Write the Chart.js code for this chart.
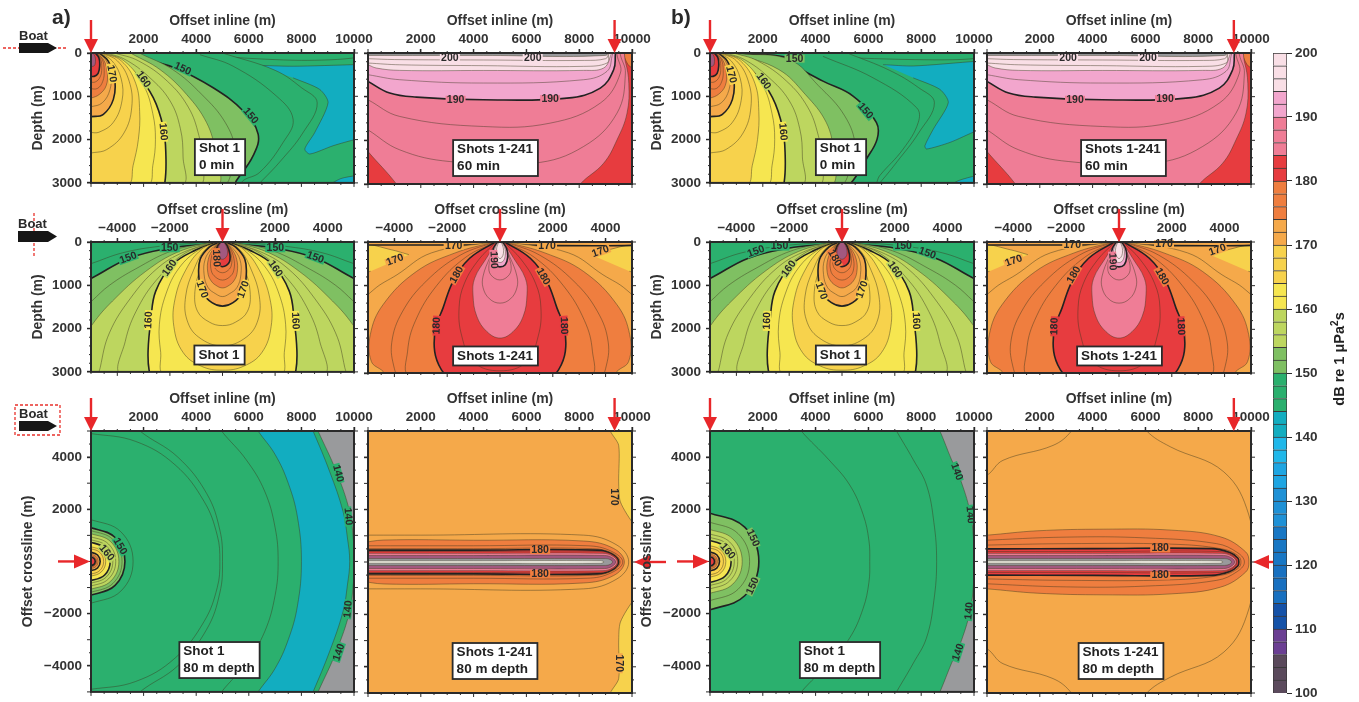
<!DOCTYPE html>
<html>
<head>
<meta charset="utf-8">
<title>Sound exposure level panels</title>
<script src="https://cdn.jsdelivr.net/npm/chart.js@4/dist/chart.umd.min.js"></script>
<style>
  html, body { margin: 0; padding: 0; background: #fff; width: 1359px; height: 702px; overflow: hidden; }
  #page { position: relative; width: 1359px; height: 702px; filter: blur(0.6px); }
  canvas { position: absolute; }
  .tag { position: absolute; font: bold 21px "Liberation Sans", sans-serif; color: #2a2a2a; }
  #barTitle { position: absolute; left: 1289px; top: 351px; width: 100px; text-align: center; white-space: nowrap;
    font: bold 14.5px "Liberation Sans", sans-serif; color: #222; transform: rotate(-90deg); }
  #barTitle sup { font-size: 10px; line-height: 0; }
  svg { position: absolute; left: 0; top: 0; }
</style>
</head>
<body>
<div id="page">
  <div class="tag" style="left:52px;top:5px">a)</div>
  <div class="tag" style="left:671px;top:5px">b)</div>
  <div id="barTitle">dB re 1 &mu;Pa<sup>2</sup>s</div>
  <svg width="80" height="440" font-family="Liberation Sans" font-weight="bold" font-size="13" fill="#2a2a2a">
    <line x1="3" y1="48" x2="68" y2="48" stroke="#e8322c" stroke-width="1.3" stroke-dasharray="3 2"/>
    <text x="19" y="40">Boat</text>
    <polygon points="19,43 48,43 57,48 48,53 19,53" fill="#161616"/>
    <line x1="34" y1="213" x2="34" y2="258" stroke="#e8322c" stroke-width="1.3" stroke-dasharray="3 2"/>
    <text x="18" y="228">Boat</text>
    <polygon points="18,231 48,231 57,236.5 48,242 18,242" fill="#161616"/>
    <rect x="15" y="405" width="45" height="30" fill="none" stroke="#e8322c" stroke-width="1.3" stroke-dasharray="3 2"/>
    <text x="19" y="418">Boat</text>
    <polygon points="19,421 48,421 57,426 48,431 19,431" fill="#161616"/>
  </svg>
</div>
<script>
// colour bar cells, 2 dB each, from 100 dB up
const cellLevels = [100,102,104,106,108,110,112,114,116,118,120,122,124,126,128,130,132,134,136,138,140,142,144,146,148,150,152,154,156,158,160,162,164,166,168,170,172,174,176,178,180,182,184,186,188,190,192,194,196,198];
// the last three (levels 200, 202, 204) are the grey, white and mauve seen close to the source
const cellColors = ['#5b4a5c','#5b4a5c','#5b4a5c','#6b3f93','#6b3f93','#1552a8','#1552a8','#1870c0','#1870c0','#1870c0','#1877c4','#1877c4','#1877c4','#1f91d6','#1f91d6','#1f91d6','#1ea5e2','#1ea5e2','#20b8ea','#20b8ea','#12adc0','#12adc0','#2bb06e','#2bb06e','#2bb06e','#7fc062','#7fc062','#bdd65f','#bdd65f','#bdd65f','#f6e650','#f6e650','#f7d24c','#f7d24c','#f7d24c','#f5a94a','#f5a94a','#ef7e3f','#ef7e3f','#ef7e3f','#e73c3f','#e73c3f','#ef7d96','#ef7d96','#ef7d96','#f2a6cd','#f2a6cd','#f9dfe6','#f9dfe6','#f9dfe6','#999a9c','#f2efe6','#a2587f'];
const barTicks = [100,110,120,130,140,150,160,170,180,190,200];

// axis ticks
const inlineTicks = [2000,4000,6000,8000,10000];
const crossTicks = [-4000,-2000,2000,4000];
const depthTicks = [0,1000,2000,3000];
const crossSideTicks = [4000,2000,-2000,-4000];
const inlineMinor = [0,500,1000,1500,2000,2500,3000,3500,4000,4500,5000,5500,6000,6500,7000,7500,8000,8500,9000,9500,10000];
const crossMinor = [-5000,-4500,-4000,-3500,-3000,-2500,-2000,-1500,-1000,-500,0,500,1000,1500,2000,2500,3000,3500,4000,4500,5000];
const depthMinor = [0,200,400,600,800,1000,1200,1400,1600,1800,2000,2200,2400,2600,2800,3000];

// contours: [level, x,y, x,y, ...] in metres
const shotInlineCore = [
  [156, 900,0, 1800,180, 2900,650, 3700,1250, 4100,1900, 4250,2500, 4100,3060],
  [158, 600,0, 1300,150, 2200,550, 3000,1100, 3400,1750, 3500,2400, 3450,3060],
  [160, 342,0, 848,153, 1734,497, 2367,1033, 2747,1721, 2848,2371, 2810,2983, 2684,3060],
  [162, 450,0, 1250,180, 2000,750, 2350,1400, 2450,2000, 2350,2600, 2150,3060],
  [164, 430,0, 1150,180, 1700,700, 1850,1350, 1800,2000, 1600,2600, 1400,3060],
  [166, 380,0, 1000,180, 1450,650, 1550,1250, 1250,1850, 600,2230, -200,2400],
  [168, 330,0, 800,180, 1150,600, 1180,1100, 850,1600, 300,1830, -200,1880],
  [170, 300,0, 650,180, 900,600, 850,1071, 470,1415, 0,1470, -200,1470],
  [172, 280,0, 580,180, 750,500, 720,850, 430,1150, 0,1240, -200,1240],
  [174, 250,0, 500,180, 620,450, 580,750, 330,950, 0,1040, -200,1040],
  [176, 220,0, 430,150, 500,400, 450,650, 240,820, -200,860],
  [178, 190,0, 360,130, 410,350, 350,550, 160,670, -200,700],
  [180, 160,0, 300,110, 330,300, 270,470, 120,540, -200,560],
  [204, 70,0, 150,80, 170,200, 110,300, -200,340]
];
const a1Islands = [
  [146, -100,-100, 10100,-100, 10100,100, 8000,170, 5000,80, 3000,-100],
  [142, 6292,283, 7685,306, 10100,268, 10300,268, 10300,1990, 10100,1990, 9204,2142, 8318,2333, 8128,2218, 8508,1836, 9014,1147, 8697,841, 7685,574],
  [142, 8900,3100, 9500,2900, 10100,2830, 10300,2830, 10300,3100]
];
const a1Outer = [
  [146, 5000,0, 7000,400, 8000,800, 8600,1150, 8050,1850, 7200,2500, 6500,2950, 6300,3060],
  [148, 4140,38, 5406,306, 7052,995, 7685,1530, 7305,2065, 6418,2754, 5785,2945, 5600,3100],
  [150, 342,0, 1988,153, 3190,344, 4646,803, 5786,1339, 6355,1874, 6165,2371, 5532,2945, 5405,3060],
  [152, 1900,20, 3100,380, 4200,950, 5100,1600, 5500,2250, 5400,2600, 5000,3060],
  [154, 1544,15, 2620,382, 3633,956, 4393,1606, 4773,2295, 4900,2601, 4773,3060]
];
const b1Islands = [
  [146, -100,-100, 10100,-100, 10100,120, 7500,150, 4000,60, 2800,-100],
  [142, 6558,268, 7700,300, 10100,191, 10300,191, 10300,1798, 10100,1798, 9090,2065, 8204,2218, 8140,2142, 8457,1760, 9026,1147, 8710,841, 7697,574],
  [142, 9000,3100, 9400,2950, 10100,2830, 10300,2830, 10300,3100]
];
const b1Outer = [
  [146, 5200,0, 6800,400, 7900,800, 8500,1150, 7900,1850, 7100,2500, 6500,2950, 6300,3060],
  [148, 4279,77, 6178,574, 7824,1262, 7887,1606, 7317,2218, 6431,2830, 6178,3060],
  [150, 1200,10, 2900,100, 3266,306, 4279,650, 5418,995, 6305,1606, 6330,1989, 5925,2448, 5418,2945, 5165,3060],
  [152, 1100,15, 3000,150, 4100,750, 5100,1450, 5500,2150, 5300,2700, 4900,3060],
  [154, 950,12, 2600,380, 3600,950, 4400,1600, 4720,2300, 4800,2650, 4550,3060]
];
const shots60Islands = [
  [178, 9700,-100, 9720,100, 9900,300, 10200,350, 10200,-100]
];
const shots60Contours = [
  [184, -200,2100, 0,2257, 1076,3000, 1200,3200, 7900,3200, 8039,3000, 8925,2525, 9432,1989, 9812,1377, 9880,700, 9750,200, 9550,-100],
  [186, 0,1760, 1203,2218, 3100,2486, 6267,2525, 8165,2142, 9432,1377, 9750,460, 9560,40, 9560,-100],
  [188, 0,1071, 1203,1453, 4368,1683, 6900,1606, 8800,1147, 9560,460, 9432,38, 9432,-100],
  [190, 0,650, 823,918, 1835,1010, 4368,1071, 7533,1033, 8800,803, 9305,383, 9369,38, 9369,-100],
  [192, 0,497, 1203,612, 4368,688, 8165,612, 9052,420, 9242,77, 9242,-100],
  [194, 0,268, 316,344, 1203,398, 4368,400, 8165,398, 8925,344, 9179,77, 9179,-100],
  [196, 0,230, 1203,270, 4368,290, 8165,306, 9052,230, 9115,38, 9115,-100],
  [198, 0,130, 1000,150, 4368,160, 8200,170, 9000,130, 9100,30, 9100,-100],
  [200, 0,55, 4368,55, 9000,55, 9080,-100]
];
// right halves, mirrored about x = 0
const shotCross = [
  [148, 500,0, 2400,100, 3800,250, 5000,500, 5300,550, 5300,3300],
  [150, 300,0, 265,30, 2033,144, 3549,373, 4964,830, 5300,900, 5300,3300],
  [152, 400,0, 1900,200, 3300,620, 4300,1000, 4964,1360, 5300,1550, 5300,3300],
  [154, 300,0, 1654,220, 2917,677, 4180,1362, 4938,1895, 5300,2300, 5300,3300],
  [156, 260,0, 1500,240, 2500,620, 3500,1300, 4300,2100, 4650,2900, 4650,3060],
  [158, 230,0, 1400,250, 2400,800, 3200,1500, 3700,2300, 3800,3060],
  [160, 200,0, 1000,180, 1907,525, 2539,1134, 2728,1819, 2829,2504, 2791,2960, 2665,3060],
  [162, 180,0, 900,180, 1650,600, 2150,1200, 2400,1900, 2350,2550, 2200,3060],
  [164, 160,0, 800,170, 1400,650, 1800,1300, 1850,1950, 1500,2550, 800,2870, 0,2960],
  [166, 140,0, 650,170, 1100,650, 1400,1250, 1350,1800, 900,2200, 0,2400],
  [168, 130,0, 560,170, 850,620, 1050,1150, 950,1600, 500,1850, 0,1930],
  [170, 120,0, 500,120, 850,400, 900,800, 780,1150, 400,1400, 0,1480],
  [172, 100,0, 400,150, 660,400, 700,750, 550,1050, 250,1200, 0,1260],
  [174, 90,0, 340,150, 540,400, 560,700, 430,900, 200,1020, 0,1060],
  [176, 80,0, 280,130, 430,380, 440,620, 320,780, 0,880],
  [178, 70,0, 230,120, 340,320, 340,530, 220,650, 0,710],
  [180, 60,0, 190,100, 280,280, 270,450, 150,540, 0,570],
  [204, 40,0, 130,80, 190,200, 170,320, 80,380, 0,400]
];
const allCrossIslands = [
  [168, 3450,290, 4100,180, 5300,60, 5300,720, 4900,670],
  [168, -3450,290, -4100,180, -5300,60, -5300,720, -4900,670],
  [170, -5300,-100, 5300,-100, 5300,70, 0,70, -5300,70]
];
const allCross = [
  [172, 300,0, 2600,250, 3900,750, 4800,1100, 5300,1500, 5300,3300],
  [174, 240,0, 1700,250, 3170,677, 4433,1438, 4913,2123, 4875,2732, 4433,2960, 4300,3060],
  [176, 200,0, 1500,300, 2800,900, 3700,1600, 4100,2300, 4000,2900, 3800,3060],
  [178, 170,0, 1300,350, 2400,1000, 3200,1800, 3500,2500, 3400,3060],
  [180, 180,0, 1149,373, 1781,905, 2160,1514, 2437,1971, 2475,2504, 2223,2922, 1907,3075],
  [182, 150,0, 800,400, 1350,950, 1550,1500, 1450,2150, 1000,2750, 0,2950],
  [184, 120,0, 518,373, 960,830, 1023,1210, 880,1700, 500,2050, 0,2200],
  [186, 100,0, 380,350, 640,780, 640,1050, 400,1300, 0,1400],
  [188, 80,0, 300,300, 420,550, 350,750, 0,870],
  [190, 100,0, 250,150, 290,350, 200,520, 0,570],
  [194, 60,0, 180,130, 200,300, 130,430, 0,470],
  [196, 40,0, 120,120, 130,260, 70,350, 0,380]
];
// upper halves, mirrored about y = 0
const a5Contours = [
  [146, -300,5300, 8500,5300, 8634,5000, 9330,3438, 9836,1914, 9970,900, 10027,0],
  [142, -300,5300, 8300,5300, 8444,5000, 9077,3438, 9583,1914, 9750,900, 9836,0],
  [146, -300,5300, 6200,5300, 6355,5000, 7000,4100, 7500,3000, 7850,1700, 8001,0],
  [146, -300,5300, 4800,5300, 4963,5000, 5900,3900, 6600,2700, 7000,1300, 7115,0],
  [146, -300,5300, 1700,5300, 1861,5000, 3300,4000, 4400,2600, 4900,1200, 5000,0],
  [146, -300,4900, 0,4900, 1700,4600, 3200,3700, 4300,2300, 4800,1000, 4900,0],
  [148, -300,1600, 0,1600, 1136,1136, 1600,0],
  [150, -300,1290, 0,1290, 916,916, 1290,0],
  [152, -300,1180, 0,1180, 838,838, 1180,0],
  [154, -300,1060, 0,1060, 753,753, 1060,0],
  [156, -300,940, 0,940, 667,667, 940,0],
  [158, -300,830, 0,830, 589,589, 830,0],
  [160, -300,730, 0,730, 518,518, 730,0],
  [164, -300,560, 0,560, 398,398, 560,0],
  [166, -300,480, 0,480, 341,341, 480,0],
  [170, -300,350, 0,350, 249,249, 350,0],
  [174, -300,270, 0,270, 192,192, 270,0],
  [178, -300,210, 0,210, 149,149, 210,0],
  [180, -300,160, 0,160, 114,114, 160,0]
];
const b5Contours = [
  [146, -300,5300, 8550,5300, 8710,5000, 9150,3900, 9470,3184, 9850,1914, 9980,900, 10014,0],
  [146, -300,5300, 6900,5300, 7064,5000, 7700,3900, 8200,2930, 8480,1500, 8584,0],
  [146, -300,5300, 3300,5300, 3456,5000, 4500,3900, 5292,2930, 5800,1800, 6020,800, 6051,0],
  [150, -300,1850, 0,1850, 1314,1314, 1850,0],
  [152, -300,1500, 0,1500, 1065,1065, 1500,0],
  [154, -300,1220, 0,1220, 866,866, 1220,0],
  [156, -300,1050, 0,1050, 746,746, 1050,0],
  [158, -300,920, 0,920, 653,653, 920,0],
  [160, -300,800, 0,800, 568,568, 800,0],
  [164, -300,600, 0,600, 426,426, 600,0],
  [166, -300,510, 0,510, 362,362, 510,0],
  [170, -300,360, 0,360, 256,256, 360,0],
  [174, -300,280, 0,280, 199,199, 280,0],
  [178, -300,220, 0,220, 156,156, 220,0],
  [180, -300,170, 0,170, 121,121, 170,0]
];
const capsuleCore = [
  [182, -300,400, 4000,400, 8800,400, 9280,260, 9470,0],
  [184, -300,330, 4000,330, 8900,330, 9270,220, 9440,0],
  [204, -300,250, 4000,250, 8950,250, 9240,170, 9380,0],
  [200, -300,130, 4000,130, 9000,130, 9180,90, 9260,0],
  [202, -300,45, 4000,45, 8800,45, 8950,0]
];
const a6Islands = [
  [168, 9179,5300, 9179,5000, 9495,4454, 9495,3057, 9560,2295, 10100,1400, 10300,1400, 10300,5300],
  [168, 9179,-5300, 9179,-5000, 9495,-4454, 9495,-3057, 9560,-2295, 10100,-1400, 10300,-1400, 10300,-5300]
];
const a6Contours = [
  [172, -300,1025, 2000,1025, 8165,1025, 9432,644, 9875,0],
  [174, -300,720, 600,838, 4000,830, 8165,800, 9305,517, 9710,0],
  [176, -300,620, 4000,620, 8300,620, 9200,420, 9650,0],
  [178, -300,510, 4000,510, 8500,510, 9250,340, 9550,0],
  [180, -300,454, 4000,454, 8700,454, 9250,300, 9495,0]
];
const b6Contours = [
  [172, -300,3310, 0,3310, 608,3882, 2500,4450, 3200,5000, 3300,5400, 5950,5400, 6050,5000, 6940,4400, 8970,3440, 9920,1790, 10050,0],
  [174, -300,1025, 0,1025, 1900,1190, 4400,1253, 7000,1215, 8844,960, 9794,390, 9920,0],
  [176, -300,820, 3000,950, 6000,920, 8700,700, 9500,350, 9750,0],
  [178, -300,640, 3000,700, 7000,680, 8900,500, 9500,250, 9620,0],
  [180, -300,500, 4000,510, 8500,510, 9200,360, 9500,150, 9540,0]
];

// contour labels: [x, y, angle, text, level behind the text]
const a1Labels = [[785,474,80,'170',168],[1988,612,55,'160',158],[2747,1820,85,'160',160],[3481,367,25,'150',148],[6064,1453,50,'150',148]];
const b1Labels = [[798,497,75,'170',168],[2026,650,55,'160',158],[2760,1820,85,'160',160],[3203,130,0,'150',150],[5887,1339,50,'150',148]];
const a2Labels = [[3100,115,0,'200',198],[6240,115,0,'200',198],[3317,1071,0,'190',188],[6900,1055,0,'190',188]];
const b2Labels = [[3070,115,0,'200',198],[6100,115,0,'200',198],[3333,1071,0,'190',188],[6742,1055,0,'190',188]];
const a3Labels = [[-2008,145,0,'150',148],[2008,145,0,'150',148],[-3587,373,-20,'150',148],[3524,358,20,'150',148],[-2008,600,-55,'160',158],[2008,616,55,'160',158],[-2804,1804,-88,'160',160],[2766,1820,88,'160',160],[-783,1096,70,'170',168],[796,1096,-70,'170',168],[-240,373,88,'180',178]];
const b3Labels = [[-2367,106,0,'150',148],[2316,106,0,'150',148],[-3254,220,-20,'150',148],[3228,258,20,'150',148],[-2013,616,-55,'160',158],[2000,640,55,'160',158],[-2836,1820,-88,'160',160],[2798,1820,88,'160',160],[-785,1134,70,'170',168],[772,1096,-70,'170',168],[-278,373,60,'180',178]];
const a4Labels = [[-1756,84,0,'170',170],[1782,84,0,'170',170],[-3975,411,-20,'170',170],[3811,221,-20,'170',170],[-1633,753,-60,'180',178],[1633,791,60,'180',178],[-2393,1918,-88,'180',180],[2418,1918,88,'180',180],[-240,411,88,'190',188]];
const b4Labels = [[-1770,68,0,'170',170],[1706,53,0,'170',170],[-3985,433,-20,'170',170],[3730,183,-20,'170',170],[-1706,753,-60,'180',178],[1620,791,60,'180',178],[-2440,1933,-88,'180',180],[2340,1933,88,'180',180],[-250,449,88,'190',188]];
const a5Labels = [[1100,580,60,'150',148],[595,327,50,'160',158],[9394,3374,75,'140',146],[9773,1722,85,'140',146],[9773,-1832,-85,'140',146],[9431,-3484,-72,'140',146]];
const b5Labels = [[1620,897,65,'150',150],[670,390,50,'160',158],[1620,-940,-65,'150',150],[9343,3438,70,'140',146],[9850,1787,85,'140',146],[9811,-1896,-85,'140',146],[9406,-3484,-72,'140',146]];
const a6Labels = [[6520,454,0,'180',176],[6520,-454,0,'180',176],[9305,2485,90,'170',170],[9495,-3865,90,'170',170]];
const b6Labels = [[6560,517,0,'180',176],[6560,-517,0,'180',176]];

const pageEl = document.getElementById('page');
const tickFont = { family: 'Liberation Sans', weight: 'bold', size: 13.5 };
const titleFont = { family: 'Liberation Sans', weight: 'bold', size: 14 };
const inkColor = '#333';
const arrowRed = '#e8272a';

function levelColor(level) {
  return cellColors[(level - 100) / 2];
}

// turns [level, x,y, ...] into {level, pts}
function unpack(shape) {
  const pts = [];
  for (let i = 1; i < shape.length; i += 2) pts.push({ x: shape[i], y: shape[i + 1] });
  return { level: shape[0], pts: pts };
}
function mirrorX(s) {
  const back = s.pts.filter(p => p.x !== 0).reverse().map(p => ({ x: -p.x, y: p.y }));
  return { level: s.level, pts: s.pts.concat(back) };
}
function mirrorY(s) {
  const back = s.pts.filter(p => p.y !== 0).reverse().map(p => ({ x: p.x, y: -p.y }));
  return { level: s.level, pts: s.pts.concat(back) };
}
function closeWith(extra) {
  return s => ({ level: s.level, pts: s.pts.concat(extra.map(e => ({ x: e[0], y: e[1] }))) });
}

function contourDataset(s, tension) {
  const major = s.level % 10 === 0 && s.level < 200 && s.level !== 140;
  return {
    label: String(s.level),
    data: s.pts,
    showLine: true,
    pointRadius: 0,
    fill: 'shape',
    backgroundColor: levelColor(s.level),
    borderColor: major ? '#222' : 'rgba(60,55,30,0.5)',
    borderWidth: major ? 1.6 : 0.9,
    tension: tension
  };
}

// everything drawn on top of the contours in one panel
function panelDecor(p) {
  return {
    id: 'panelDecor',
    afterDatasetsDraw(chart) {
      const ctx = chart.ctx, a = chart.chartArea, sx = chart.scales.x, sy = chart.scales.y;
      ctx.save();
      // contour labels
      ctx.font = 'bold 10.5px "Liberation Sans"';
      ctx.textAlign = 'center';
      ctx.textBaseline = 'middle';
      (p.labels || []).forEach(l => {
        ctx.save();
        ctx.translate(sx.getPixelForValue(l[0]), sy.getPixelForValue(l[1]));
        ctx.rotate(l[2] * Math.PI / 180);
        ctx.fillStyle = levelColor(l[4]);
        ctx.fillRect(-10, -4, 20, 8);
        ctx.fillStyle = '#2a2a2a';
        ctx.fillText(l[3], 0, 0);
        ctx.restore();
      });
      // frame and small ticks on all sides
      ctx.strokeStyle = '#2a2a2a';
      ctx.lineWidth = 2;
      ctx.strokeRect(a.left, a.top, a.right - a.left, a.bottom - a.top);
      ctx.lineWidth = 1;
      ctx.beginPath();
      p.xMinor.forEach(v => {
        const x = sx.getPixelForValue(v);
        const len = v % 2000 === 0 ? 4 : 2;
        ctx.moveTo(x, a.top); ctx.lineTo(x, a.top - len);
        ctx.moveTo(x, a.bottom); ctx.lineTo(x, a.bottom + len);
      });
      p.yMinor.forEach(v => {
        const y = sy.getPixelForValue(v);
        const len = v % 1000 === 0 ? 4 : 2;
        ctx.moveTo(a.left, y); ctx.lineTo(a.left - len, y);
        ctx.moveTo(a.right, y); ctx.lineTo(a.right + len, y);
      });
      ctx.stroke();
      // white note box
      const cx = sx.getPixelForValue(p.note[0]), cy = sy.getPixelForValue(p.note[1]);
      ctx.font = 'bold 13.5px "Liberation Sans"';
      ctx.textAlign = 'left';
      const w = Math.max(...p.note[2].map(t => ctx.measureText(t).width)) + 9;
      const h = p.note[2].length * 17 + 2;
      ctx.fillStyle = '#fff';
      ctx.fillRect(cx - w / 2, cy - h / 2, w, h);
      ctx.lineWidth = 1.8;
      ctx.strokeRect(cx - w / 2, cy - h / 2, w, h);
      ctx.fillStyle = '#222';
      p.note[2].forEach((t, i) => ctx.fillText(t, cx - w / 2 + 4, cy - h / 2 + 9.5 + i * 17));
      // red arrows
      ctx.strokeStyle = arrowRed;
      ctx.fillStyle = arrowRed;
      ctx.lineWidth = 2.4;
      const sx0 = sx.getPixelForValue(p.source);
      ctx.beginPath(); ctx.moveTo(sx0, a.top - 33); ctx.lineTo(sx0, a.top - 10); ctx.stroke();
      ctx.beginPath(); ctx.moveTo(sx0 - 7, a.top - 14); ctx.lineTo(sx0 + 7, a.top - 14); ctx.lineTo(sx0, a.top); ctx.fill();
      if (p.sideArrow) {
        const y0 = sy.getPixelForValue(0);
        const dir = p.sideArrow;
        const tip = dir > 0 ? a.left - 1 : a.right + 2;
        ctx.beginPath(); ctx.moveTo(tip - dir * 32, y0); ctx.lineTo(tip - dir * 10, y0); ctx.stroke();
        ctx.beginPath(); ctx.moveTo(tip - dir * 16, y0 - 7); ctx.lineTo(tip - dir * 16, y0 + 7); ctx.lineTo(tip, y0); ctx.fill();
      }
      ctx.restore();
    }
  };
}

function drawPanel(p) {
  const left = p.px - 75, top = p.py - 45;
  const canvas = document.createElement('canvas');
  canvas.width = p.pw + 75 + 40;
  canvas.height = p.ph + 45 + 12;
  canvas.style.left = left + 'px';
  canvas.style.top = top + 'px';
  pageEl.appendChild(canvas);

  const baseRect = [p.base, p.xRange[0], p.yRange[0], p.xRange[1], p.yRange[0], p.xRange[1], p.yRange[1], p.xRange[0], p.yRange[1]];
  const shapes = [contourDataset(unpack(baseRect), 0)]
    .concat((p.islands || []).map(s => contourDataset(unpack(s), 0.25)))
    .concat(p.contours.map(s => contourDataset(p.shape(unpack(s)), 0.4)));
  // the first dataset is painted last, so the list goes in reversed
  const datasets = shapes.reverse();

  new Chart(canvas, {
    type: 'scatter',
    data: { datasets: datasets },
    options: {
      responsive: false,
      animation: false,
      events: [],
      layout: { padding: { right: 40, bottom: 12 } },
      elements: { line: { capBezierPoints: false } },
      plugins: { legend: { display: false }, tooltip: { enabled: false } },
      scales: {
        x: {
          type: 'linear',
          position: 'top',
          min: p.xRange[0],
          max: p.xRange[1],
          afterBuildTicks: s => { s.ticks = p.xTicks.map(v => ({ value: v })); },
          afterFit: s => { s.height = 45; },
          border: { display: false },
          grid: { drawOnChartArea: false, tickLength: 4, color: '#2a2a2a', tickWidth: 1.4 },
          ticks: { autoSkip: false, maxRotation: 0, padding: 2, font: tickFont, color: inkColor,
            callback: v => String(v).replace('-', '\u2212') },
          title: { display: true, text: p.xTitle, font: titleFont, color: inkColor, padding: { top: 5, bottom: 0 } }
        },
        y: {
          type: 'linear',
          position: 'left',
          reverse: p.yRange[0] === 0,
          min: p.yRange[0] === 0 ? 0 : -5000,
          max: p.yRange[0] === 0 ? 3000 : 5000,
          afterBuildTicks: s => { s.ticks = p.yTicks.map(v => ({ value: v })); },
          afterFit: s => { s.width = 75; },
          border: { display: false },
          grid: { drawOnChartArea: false, tickLength: 4, color: '#2a2a2a', tickWidth: 1.4 },
          ticks: { display: p.showY, autoSkip: false, maxRotation: 0, padding: 5, font: tickFont, color: inkColor,
            callback: v => String(v).replace('-', '\u2212') },
          title: { display: p.showY, text: p.yTitle, font: titleFont, color: inkColor,
            padding: { top: p.yRange[0] === 0 ? 14 : 4, bottom: 0 } }
        }
      }
    },
    plugins: [panelDecor(p)]
  });
}

// the colour bar
function drawBar() {
  const canvas = document.createElement('canvas');
  canvas.width = 94;
  canvas.height = 665;
  canvas.style.left = '1265px';
  canvas.style.top = '40px';
  pageEl.appendChild(canvas);
  new Chart(canvas, {
    type: 'bar',
    data: {
      labels: ['dB'],
      datasets: cellLevels.map((lv, i) => ({
        label: String(lv),
        data: [[lv, lv + 2]],
        backgroundColor: cellColors[i],
        borderColor: '#3a3a3a',
        borderWidth: 1,
        barPercentage: 1,
        categoryPercentage: 1,
        grouped: false
      }))
    },
    options: {
      responsive: false,
      animation: false,
      events: [],
      layout: { padding: { left: 8, top: 13, bottom: 12, right: 0 } },
      plugins: { legend: { display: false }, tooltip: { enabled: false } },
      scales: {
        x: { display: false, stacked: false },
        y: {
          position: 'right',
          min: 100,
          max: 200,
          afterBuildTicks: s => { s.ticks = barTicks.map(v => ({ value: v })); },
          afterFit: s => { s.width = 72; },
          border: { display: false },
          grid: { drawOnChartArea: false, tickLength: 5, color: '#2a2a2a' },
          ticks: { padding: 3, font: tickFont, color: inkColor }
        }
      }
    }
  });
}

const colLeft = [91, 368, 710, 987];
const colWidth = [263, 264, 264, 264];
const inlineClose = closeWith([[-300, 3300], [-300, -200]]);
const topLeftClose = closeWith([[-300, -200]]);

const rowInline = { py: 53, ph: 131, xRange: [0, 10000], yRange: [0, 3000], xTicks: inlineTicks, yTicks: depthTicks, xMinor: inlineMinor, yMinor: depthMinor, xTitle: 'Offset inline (m)', yTitle: 'Depth (m)' };
const rowCross = { py: 242, ph: 131, xRange: [-5000, 5000], yRange: [0, 3000], xTicks: crossTicks, yTicks: depthTicks, xMinor: crossMinor, yMinor: depthMinor, xTitle: 'Offset crossline (m)', yTitle: 'Depth (m)' };
const rowPlan = { py: 431, ph: 262, xRange: [0, 10000], yRange: [-5000, 5000], xTicks: inlineTicks, yTicks: crossSideTicks, xMinor: inlineMinor, yMinor: crossMinor, xTitle: 'Offset inline (m)', yTitle: 'Offset crossline (m)' };

const panels = [
  { ...rowInline, col: 0, base: 144, islands: a1Islands, contours: a1Outer.concat(shotInlineCore), shape: inlineClose, labels: a1Labels, source: 0, note: [4905, 2405, ['Shot 1', '0 min']] },
  { ...rowInline, col: 1, base: 182, islands: shots60Islands, contours: shots60Contours, shape: topLeftClose, labels: a2Labels, source: 9340, note: [4830, 2405, ['Shots 1-241', '60 min']] },
  { ...rowInline, col: 2, base: 144, islands: b1Islands, contours: b1Outer.concat(shotInlineCore), shape: inlineClose, labels: b1Labels, source: 0, note: [4962, 2405, ['Shot 1', '0 min']] },
  { ...rowInline, col: 3, base: 182, islands: shots60Islands, contours: shots60Contours, shape: topLeftClose, labels: b2Labels, source: 9350, note: [5170, 2405, ['Shots 1-241', '60 min']] },
  { ...rowCross, col: 0, base: 146, contours: shotCross, shape: mirrorX, labels: a3Labels, source: 0, note: [-114, 2610, ['Shot 1']] },
  { ...rowCross, col: 1, base: 170, islands: allCrossIslands, contours: allCross, shape: mirrorX, labels: a4Labels, source: 0, note: [-170, 2610, ['Shots 1-241']] },
  { ...rowCross, col: 2, base: 146, contours: shotCross, shape: mirrorX, labels: b3Labels, source: 0, note: [-38, 2610, ['Shot 1']] },
  { ...rowCross, col: 3, base: 170, islands: allCrossIslands, contours: allCross, shape: mirrorX, labels: b4Labels, source: 0, note: [19, 2610, ['Shots 1-241']] },
  { ...rowPlan, col: 0, base: 200, contours: a5Contours, shape: mirrorY, labels: a5Labels, source: 0, sideArrow: 1, note: [4886, -3779, ['Shot 1', '80 m depth']] },
  { ...rowPlan, col: 1, base: 170, islands: a6Islands, contours: a6Contours.concat(capsuleCore), shape: mirrorY, labels: a6Labels, source: 9340, sideArrow: -1, note: [4811, -3779, ['Shots 1-241', '80 m depth']] },
  { ...rowPlan, col: 2, base: 200, contours: b5Contours, shape: mirrorY, labels: b5Labels, source: 0, sideArrow: 1, note: [4924, -3779, ['Shot 1', '80 m depth']] },
  { ...rowPlan, col: 3, base: 170, contours: b6Contours.concat(capsuleCore), shape: mirrorY, labels: b6Labels, source: 9350, sideArrow: -1, note: [5076, -3779, ['Shots 1-241', '80 m depth']] }
];

panels.forEach(p => {
  p.px = colLeft[p.col];
  p.pw = colWidth[p.col];
  p.showY = p.col === 0 || p.col === 2;
  drawPanel(p);
});
drawBar();
</script>
</body>
</html>
